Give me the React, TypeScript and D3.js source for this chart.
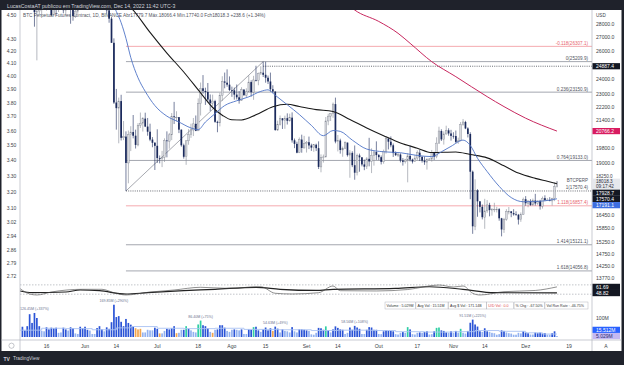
import React from 'react';
import * as d3 from 'd3';

type Ohlc = [number, number, number, number];
type Pt = [string, number];

// daily candles: open, high, low, close
const mayOhlc: Ohlc[] = [
  [39690, 39850, 35860, 36550], [36550, 36650, 35260, 36010], [36010, 36150, 34750, 35470],
  [35470, 35500, 33710, 34040], [34040, 34240, 30030, 30080], [30080, 32660, 29730, 31010],
  [31010, 32190, 27790, 28940], [28940, 30030, 25300, 29030], [29030, 31080, 28700, 29280],
  [29280, 30340, 28630, 30080], [30080, 31460, 29480, 31330], [31330, 31330, 29090, 29860],
  [29860, 30790, 29460, 30420], [30420, 30670, 28650, 28710], [28710, 30540, 28680, 30300],
  [30300, 30770, 28730, 29200], [29200, 29600, 28950, 29430], [29430, 30480, 29230, 30280],
  [30280, 30650, 28850, 29100], [29100, 29830, 28650, 29650], [29650, 30220, 29290, 29540],
  [29540, 29860, 28020, 29200], [29200, 29390, 28260, 28630], [28630, 29290, 28480, 29020],
  [29020, 29550, 28810, 29450], [29450, 31950, 29300, 31720], [31720, 32400, 31200, 31800],
];
const junOhlc: Ohlc[] = [
  [31800, 31980, 29300, 29800], [29800, 30670, 29600, 30450], [30450, 30690, 29280, 29700],
  [29700, 29940, 29470, 29860], [29860, 30170, 29500, 29900], [29900, 31770, 29880, 31370],
  [31370, 31550, 29220, 31130], [31130, 31330, 29850, 30200], [30200, 30700, 29950, 30110],
  [30110, 30390, 28850, 29090], [29090, 29450, 28100, 28420], [28420, 28550, 26560, 26570],
  [26570, 26900, 22400, 22490], [22490, 23360, 20850, 22140], [22140, 22800, 20070, 22580],
  [22580, 22980, 20230, 20380], [20380, 21360, 20250, 20450], [20450, 20750, 17570.4, 19000],
  [19000, 20800, 17950, 20560], [20560, 21050, 19640, 20710], [20710, 21720, 20350, 20500],
  [20500, 20850, 19780, 19980], [19980, 21230, 19900, 21100], [21100, 21870, 20950, 21230],
  [21230, 21590, 20740, 21500], [21500, 21860, 21000, 21030], [21030, 21540, 20500, 20730],
  [20730, 21200, 20190, 20280], [20280, 20420, 19850, 20100], [20100, 20140, 18630, 19930],
];
const julOhlc: Ohlc[] = [
  [19930, 20870, 19000, 19260], [19260, 19400, 18980, 19240], [19240, 19650, 18780, 19300],
  [19300, 20350, 19050, 20230], [20230, 20750, 19300, 20190], [20190, 20660, 19770, 20550],
  [20550, 21840, 20250, 21640], [21640, 22530, 21180, 21590], [21590, 21950, 21330, 21590],
  [21590, 21600, 20650, 20850], [20850, 20860, 19880, 19960], [19960, 20050, 19230, 19330],
  [19330, 20240, 18900, 20210], [20210, 20880, 19990, 20570], [20570, 21200, 20380, 20830],
  [20830, 21540, 20480, 21190], [21190, 21690, 20760, 20780], [20780, 22750, 20770, 22430],
  [22430, 23780, 21690, 23400], [23400, 24280, 23050, 23230], [23230, 23440, 22340, 23160],
  [23160, 23750, 22500, 22680], [22680, 23000, 21960, 22450], [22450, 22990, 22270, 22580],
  [22580, 22660, 21250, 21310], [21310, 21380, 20700, 21250], [21250, 23110, 21040, 22950],
  [22950, 24200, 22590, 23850], [23850, 24450, 23400, 23770], [23770, 24670, 23500, 23640],
  [23640, 24190, 23220, 23290],
];
const augOhlc: Ohlc[] = [
  [23290, 23510, 22850, 23270], [23270, 23450, 22670, 22990], [22990, 23650, 22680, 22820],
  [22820, 23220, 22420, 22620], [22620, 23470, 22590, 23310], [23310, 23350, 22930, 22950],
  [22950, 23400, 22840, 23170], [23170, 24250, 23150, 23810], [23810, 23930, 22860, 23150],
  [23150, 24230, 22660, 23950], [23950, 24920, 23850, 23930], [23930, 24450, 23600, 24400],
  [24400, 24890, 24290, 24440], [24440, 25209.9, 24150, 24300], [24300, 25200, 23770, 24100],
  [24100, 24250, 23680, 23850], [23850, 24450, 23180, 23340], [23340, 23600, 23080, 23190],
  [23190, 23200, 20780, 20830], [20830, 21380, 20770, 21140], [21140, 21690, 21090, 21520],
  [21520, 21530, 20890, 21400], [21400, 21680, 20900, 21530], [21530, 21820, 21150, 21370],
  [21370, 21800, 21320, 21560], [21560, 21880, 20110, 20240], [20240, 20340, 19800, 20040],
  [20040, 20160, 19520, 19550], [19550, 20400, 19530, 20280], [20280, 20560, 19550, 19810],
  [19810, 20490, 19790, 20050],
];
const sepOhlc: Ohlc[] = [
  [20050, 20200, 19560, 20130], [20130, 20450, 19750, 19950], [19950, 20050, 19650, 19830],
  [19830, 20000, 19600, 19990], [19990, 20050, 19640, 19800], [19800, 20180, 18680, 18790],
  [18790, 19460, 18510, 19290], [19290, 19450, 19020, 19320], [19320, 21600, 19300, 21360],
  [21360, 21800, 21110, 21650], [21650, 21840, 21360, 21820], [21820, 22490, 21550, 22390],
  [22390, 22800, 20070, 20170], [20170, 20540, 19620, 20230], [20230, 20330, 19500, 19700],
  [19700, 19890, 19330, 19800], [19800, 20180, 19750, 20110], [20110, 20110, 19340, 19420],
  [19420, 19690, 18230, 19540], [19540, 19630, 18780, 18880], [18880, 19950, 18130, 18490],
  [18490, 19500, 18350, 19400], [19400, 19500, 18540, 19300], [19300, 19310, 18820, 18920],
  [18920, 19180, 18620, 18800], [18800, 19310, 18680, 19220], [19220, 20380, 18820, 19080],
  [19080, 19790, 18470, 19410], [19410, 19640, 18860, 19590], [19590, 20180, 19160, 19420],
];
const octOhlc: Ohlc[] = [
  [19420, 19480, 19150, 19310], [19310, 19400, 18920, 19060], [19060, 19720, 18960, 19630],
  [19630, 20480, 19500, 20340], [20340, 20370, 19730, 20160], [20160, 20460, 19850, 19960],
  [19960, 20060, 19320, 19530], [19530, 19620, 19370, 19420], [19420, 19550, 19320, 19450],
  [19450, 19520, 19030, 19130], [19130, 19260, 18860, 19060], [19060, 19220, 18970, 19160],
  [19160, 19520, 18000, 19380], [19380, 19950, 19080, 19180], [19180, 19230, 18970, 19070],
  [19070, 19420, 19060, 19260], [19260, 19680, 19160, 19550], [19550, 19710, 19100, 19330],
  [19330, 19350, 19020, 19120], [19120, 19350, 18900, 19040], [19040, 19250, 18650, 19170],
  [19170, 19260, 19130, 19210], [19210, 19700, 19070, 19570], [19570, 19600, 19160, 19330],
  [19330, 20410, 19250, 20080], [20080, 21020, 20060, 20770], [20770, 20870, 20200, 20290],
  [20290, 20750, 20000, 20600], [20600, 21080, 20560, 20810], [20810, 20930, 20500, 20630],
  [20630, 20840, 20220, 20490],
];
const novOhlc: Ohlc[] = [
  [20490, 20700, 20330, 20480], [20480, 20800, 20060, 20150], [20150, 20390, 20040, 20210],
  [20210, 21300, 20180, 21150], [21150, 21480, 21080, 21300], [21300, 21370, 20880, 20920],
  [20920, 20990, 20400, 20600], [20600, 20700, 17170, 18540], [18540, 18600, 15590, 15920],
  [15920, 18150, 15750, 17600], [17600, 17660, 16350, 17070], [17070, 17070, 16550, 16810],
  [16810, 16920, 16230, 16330], [16330, 17190, 15810, 16620], [16620, 17130, 16530, 16900],
  [16900, 17000, 16370, 16660], [16660, 16750, 16400, 16690], [16690, 17000, 16560, 16700],
  [16700, 16810, 16550, 16700], [16700, 16750, 16170, 16280], [16280, 16300, 15480, 15780],
  [15780, 16300, 15630, 16230], [16230, 16700, 16170, 16600], [16600, 16800, 16460, 16600],
  [16600, 16610, 16330, 16520], [16520, 16700, 16400, 16460], [16460, 16600, 16400, 16440],
  [16440, 16480, 16000, 16220], [16220, 16550, 16120, 16440], [16440, 17250, 16430, 17170],
];
const decOhlc: Ohlc[] = [
  [17170, 17320, 16860, 16980], [16980, 17100, 16790, 17090], [17090, 17170, 16860, 16890],
  [16890, 17200, 16880, 17110], [17110, 17430, 16870, 16970], [16970, 17100, 16900, 17090],
  [17090, 17140, 16680, 16840], [16840, 17300, 16730, 17220], [17220, 17360, 17080, 17130],
  [17130, 17230, 17090, 17130], [17130, 17270, 17070, 17090], [17090, 17240, 16870, 17210],
  [17210, 18000, 17080, 17779.7], [17779.7, 18066.4, 17740, 18018.3],
];

// daily volume, millions
const mayVol = [78, 54, 34, 57, 120, 74, 126.45, 100, 57, 32, 30, 51, 40, 49, 46, 49, 22, 24, 49, 40, 34, 51, 46, 19, 16, 54, 46];
const junVol = [54, 38, 34, 16, 16, 47, 57, 40, 30, 51, 43, 78, 169.85, 105, 110, 80, 57, 95, 74, 65, 54, 46, 40, 43, 24, 24, 38, 35, 35, 49];
const julVol = [43, 19, 19, 32, 43, 40, 46, 57, 20, 22, 38, 38, 57, 43, 35, 27, 24, 66, 86.4, 62, 57, 46, 27, 22, 38, 40, 62, 62, 49, 32, 27];
const augVol = [38, 40, 38, 35, 40, 16, 16, 40, 38, 52, 54, 35, 27, 40, 50, 35, 46, 32, 54.63, 44, 24, 40, 32, 30, 24, 52, 30, 24, 40, 40, 38];
const sepVol = [35, 32, 14, 12, 22, 48, 46, 38, 56, 35, 24, 40, 56, 48, 40, 38, 16, 22, 50, 38, 58.56, 50, 43, 16, 16, 38, 52, 50, 38, 38];
const octVol = [16, 15, 30, 35, 32, 32, 30, 15, 13, 22, 26, 22, 52, 40, 15, 13, 22, 24, 22, 26, 30, 13, 15, 30, 48, 50, 35, 32, 24, 22, 30];
const novVol = [22, 32, 23, 43, 22, 18, 32, 75, 91.51, 66, 55, 30, 27, 46, 30, 27, 22, 20, 12, 15, 35, 32, 24, 20, 18, 12, 12, 22, 19, 30];
const decVol = [24, 20, 13, 13, 23, 20, 23, 20, 20, 12, 12, 20, 30, 5.029];

const months = [
  { start: '2022-05-05', ohlc: mayOhlc, vol: mayVol },
  { start: '2022-06-01', ohlc: junOhlc, vol: junVol },
  { start: '2022-07-01', ohlc: julOhlc, vol: julVol },
  { start: '2022-08-01', ohlc: augOhlc, vol: augVol },
  { start: '2022-09-01', ohlc: sepOhlc, vol: sepVol },
  { start: '2022-10-01', ohlc: octOhlc, vol: octVol },
  { start: '2022-11-01', ohlc: novOhlc, vol: novVol },
  { start: '2022-12-01', ohlc: decOhlc, vol: decVol },
];

// moving averages
const sma50: Pt[] = [
  ['2022-06-17', 29900], ['2022-06-21', 29100], ['2022-06-28', 27350], ['2022-07-05', 25820],
  ['2022-07-12', 24490], ['2022-07-19', 23100], ['2022-07-24', 22180], ['2022-07-28', 21710],
  ['2022-08-01', 21430], ['2022-08-05', 21420], ['2022-08-11', 21730], ['2022-08-18', 22230],
  ['2022-08-24', 22380], ['2022-08-29', 22240], ['2022-09-05', 22050], ['2022-09-12', 21930],
  ['2022-09-19', 21450], ['2022-09-26', 20950], ['2022-10-03', 20500], ['2022-10-10', 20090],
  ['2022-10-17', 19800], ['2022-10-23', 19560], ['2022-11-02', 19590], ['2022-11-08', 19450],
  ['2022-11-15', 19270], ['2022-11-22', 18850], ['2022-11-28', 18470], ['2022-12-05', 18200],
  ['2022-12-10', 18050], ['2022-12-14', 17928.7],
];
const ema20: Pt[] = [
  ['2022-06-12', 29900], ['2022-06-14', 29000], ['2022-06-16', 28100], ['2022-06-18', 26900],
  ['2022-06-20', 25500], ['2022-06-23', 24100], ['2022-06-26', 23200], ['2022-06-30', 22300],
  ['2022-07-05', 21650], ['2022-07-10', 21300], ['2022-07-15', 20950], ['2022-07-18', 20850],
  ['2022-07-21', 21300], ['2022-07-25', 21800], ['2022-07-29', 22300], ['2022-08-03', 22600],
  ['2022-08-08', 22850], ['2022-08-13', 23200], ['2022-08-16', 23300], ['2022-08-19', 22950],
  ['2022-08-24', 22350], ['2022-08-29', 21750], ['2022-09-03', 21100], ['2022-09-08', 20500],
  ['2022-09-12', 20800], ['2022-09-15', 20750], ['2022-09-20', 20250], ['2022-09-26', 19750],
  ['2022-10-03', 19600], ['2022-10-10', 19550], ['2022-10-17', 19400], ['2022-10-23', 19340],
  ['2022-10-27', 19600], ['2022-10-31', 19900], ['2022-11-05', 20250], ['2022-11-08', 19950],
  ['2022-11-11', 19250], ['2022-11-15', 18550], ['2022-11-20', 17800], ['2022-11-25', 17250],
  ['2022-11-30', 17050], ['2022-12-05', 17060], ['2022-12-10', 17110], ['2022-12-14', 17191.1],
];
const sma200: Pt[] = [
  ['2022-09-18', 29600], ['2022-09-21', 29115], ['2022-10-01', 28200], ['2022-10-09', 27283],
  ['2022-10-14', 26533], ['2022-10-23', 25205], ['2022-11-02', 24173], ['2022-11-15', 22862],
  ['2022-11-22', 22235], ['2022-12-01', 21527], ['2022-12-14', 20766.2],
];

// lower oscillator
const oscFast: Pt[] = [
  ['2022-05-05', 58], ['2022-05-09', 46.4], ['2022-05-12', 44.3], ['2022-05-18', 50.7],
  ['2022-05-31', 56.5], ['2022-06-08', 56.5], ['2022-06-13', 49.2], ['2022-06-18', 44.3],
  ['2022-06-27', 50], ['2022-07-08', 55], ['2022-07-19', 60.8], ['2022-07-30', 58.6],
  ['2022-08-13', 62], ['2022-08-19', 48], ['2022-08-26', 46.4], ['2022-09-06', 49.2],
  ['2022-09-12', 63.6], ['2022-09-15', 53.5], ['2022-09-30', 52.9], ['2022-10-13', 56],
  ['2022-10-26', 65.7], ['2022-11-01', 61.4], ['2022-11-05', 63.6], ['2022-11-09', 48],
  ['2022-11-12', 44.3], ['2022-11-22', 51.4], ['2022-12-05', 54], ['2022-12-14', 61.69],
];
const oscSlow: Pt[] = [
  ['2022-05-05', 52.9], ['2022-05-10', 49.2], ['2022-05-24', 50.7], ['2022-05-30', 55],
  ['2022-06-07', 53.5], ['2022-06-18', 46.4], ['2022-06-27', 49.2], ['2022-07-12', 53.5],
  ['2022-07-25', 56.5], ['2022-08-11', 60.8], ['2022-08-21', 56.5], ['2022-09-05', 54],
  ['2022-09-12', 56.5], ['2022-10-08', 58.6], ['2022-10-22', 62], ['2022-11-05', 56.5],
  ['2022-11-18', 49.2], ['2022-12-14', 48.82],
];
const oscBands = [66, 46];

// volume average (step) and highlighted bars
const avgVol: Pt[] = [
  ['2022-05-05', 36], ['2022-05-14', 46], ['2022-05-24', 44], ['2022-06-04', 38], ['2022-06-14', 48],
  ['2022-06-20', 55], ['2022-07-01', 46], ['2022-07-12', 44], ['2022-07-25', 46], ['2022-08-06', 40],
  ['2022-08-20', 38], ['2022-09-03', 34], ['2022-09-14', 36], ['2022-09-28', 34], ['2022-10-08', 28],
  ['2022-10-20', 26], ['2022-11-01', 28], ['2022-11-10', 34], ['2022-11-20', 30], ['2022-12-01', 22],
  ['2022-12-08', 15.51], ['2022-12-14', 15.51],
];
const tealDays = ['2022-07-13', '2022-07-18', '2022-07-19', '2022-08-10', '2022-09-09', '2022-10-13', '2022-10-25', '2022-10-26', '2022-11-04'];
const orangeDays = ['2022-06-22', '2022-06-23', '2022-06-24', '2022-07-02', '2022-07-09', '2022-07-24', '2022-08-18'];
const volSpikes: [string, string][] = [
  ['2022-05-11', '126.45M (+337%)'], ['2022-06-13', '169.85M (+290%)'], ['2022-07-19', '86.40M (+75%)'],
  ['2022-08-19', '54.63M (+49%)'], ['2022-09-21', '58.56M (+108%)'], ['2022-11-09', '91.51M (+225%)'],
];
const volStats = ['Volume : 5.029M', 'Avg Vol : 15.51M', 'Avg $ Vol : 171.14B', 'U/D Vol : 0.0', '% Chg : -67.50%', 'Vol Run Rate : -46.75%'];

// fibonacci retracement (log)
const fibFrom: Pt = ['2022-06-18', 17570.4];
const fibTo: Pt = ['2022-08-14', 25209.9];
const fibRatios = ['-0.118', '0', '0.236', '0.764', '1', '1.118', '1.414', '1.618'];
const fibPrices = [26307.1, 25209.9, 23150.9, 19133.0, 17570.4, 16857.4, 15121.1, 14056.8];
const hLine: Pt = ['2022-08-14', 24887.4];

// axes
const priceTicks = [28000, 27000, 26000, 24000, 23000, 22200, 21400, 19800, 19000, 18250, 16450, 15850, 15250, 14750, 14250, 13770];
const leftTicks = [4.5, 4.3, 4.2, 4.1, 4.0, 3.9, 3.8, 3.7, 3.6, 3.5, 3.4, 3.3, 3.2, 3.1, 3.02, 2.94, 2.86, 2.79, 2.72];
const timeTicks: Pt[] = [
  ['2022-05-16', 16], ['2022-06-01', 0], ['2022-06-14', 14], ['2022-07-01', 0], ['2022-07-18', 18],
  ['2022-08-01', 0], ['2022-08-15', 15], ['2022-09-01', 0], ['2022-09-14', 14], ['2022-10-01', 0],
  ['2022-10-17', 17], ['2022-11-01', 0], ['2022-11-14', 14], ['2022-12-01', 0], ['2022-12-19', 19],
];
const monthNames = ['Jan', 'Fev', 'Mar', 'Abr', 'Mai', 'Jun', 'Jul', 'Ago', 'Set', 'Out', 'Nov', 'Dez'];

const lastPrice = 18018.3;
const lastCountdown = '09:17:42';
const symbol = 'BTCPERP';
const header = 'BTC Perpetual Futures Contract, 1D, BINANCE  Abr17779.7  Máx.18066.4  Mín.17740.0  Fch18018.3  +238.6 (+1.34%)';
const byline = 'LucasCostaAT publicou em TradingView.com, Dec 14, 2022 11:42 UTC-3';

const W = 624, H = 365;
const L = 20, R = 592, T = 10, AX = 340, B = 351;
const font = "'Liberation Sans', Arial, sans-serif";
const dark = '#1f222b';
const upFill = '#d8dadf', upLine = '#858995', downCol = '#1b2a5c';

const parse = d3.utcParse('%Y-%m-%d');
const day = (s: string) => parse(s) as Date;
const fmt = d3.utcFormat('%Y-%m-%d');

export default function App() {
  const candles = months.flatMap(m => m.ohlc.map((k, i) => ({
    date: d3.utcDay.offset(day(m.start), i), o: k[0], h: k[1], l: k[2], c: k[3], v: m.vol[i],
  })));

  const x = d3.scaleUtc().domain([day('2022-05-16'), day('2022-12-19')]).range([46.5, 569]);
  const y = d3.scaleLog().domain([13770, 28000]).range([278.3, 24]);
  const yLeft = d3.scaleLog().domain([2.72, 4.5]).range([276, 15]);
  const yVol = d3.scaleLinear().domain([0, 100]).range([337, 318]);
  const yOsc = d3.scaleLinear().domain([40, 70]).range([297, 283]);

  const line = (sc: (v: number) => number) =>
    d3.line<Pt>().x(p => x(day(p[0]))).y(p => sc(p[1])).curve(d3.curveMonotoneX);

  const avgIdx = d3.bisector((p: Pt) => day(p[0])).right;
  const avgAt = (dt: Date) => avgVol[Math.max(0, avgIdx(avgVol, dt) - 1)][1];
  const teal = new Set(tealDays), orange = new Set(orangeDays);
  const volColor = (dt: Date, v: number) => {
    const k = fmt(dt);
    if (teal.has(k)) return '#2fcfa4';
    if (orange.has(k)) return '#f2a64e';
    return v >= avgAt(dt) * 0.85 ? '#2b54d6' : '#93b2f0';
  };

  // right axis tags, pushed apart like the platform does
  const lastTop = y(lastPrice) - 3.3;
  const lastH = 11;
  const priceTags = [
    { v: 17928.7, bg: '#131722', fg: '#fff' },
    { v: 17570.4, bg: '#131722', fg: '#fff' },
    { v: 17191.1, bg: '#3d6ee0', fg: '#fff' },
  ];
  let prev = lastTop + lastH;
  const stacked = priceTags.map(t => {
    const c = Math.max(y(t.v), prev + 3.1);
    prev = c + 3.1;
    return { ...t, c };
  });
  const soloTags = [
    { c: y(24887.4), bg: '#131722', fg: '#fff', label: '24887.4' },
    { c: y(20766.2), bg: '#d81b60', fg: '#fff', label: '20766.2' },
  ];
  const oscTags = [61.69, 48.82].map((v, i) => ({ label: v.toFixed(2), c: yOsc(v) + i * 0.2 }));
  const volLow = yVol(5.029);
  const volTags = [
    { label: '15.512M', c: Math.min(yVol(15.51), volLow - 6.2), bg: '#2962ff', fg: '#fff' },
    { label: '5.029M', c: volLow, bg: '#c4b8f2', fg: '#2a2e6e' },
  ];

  // stats boxes, laid out from the right
  const cw = 1.82;
  let bx = 588;
  const boxes = volStats.slice().reverse().map(s => {
    const w = s.length * cw + 3;
    bx -= w;
    const b = { s, x: bx, w };
    bx -= 0.6;
    return b;
  }).reverse();

  const tag = (key: string, c: number, label: string, bg: string, fg: string) => (
    <g key={key}>
      <rect x={R + 0.5} y={c - 3.1} width={27.5} height={6.2} fill={bg} />
      <text x={596} y={c} fill={fg} fontSize={5} dominantBaseline="central">{label}</text>
    </g>
  );

  const fibX0 = x(day(fibFrom[0]));

  return (
    <svg width={W} height={H} viewBox={`0 0 ${W} ${H}`}
      style={{ position: 'absolute', left: 0, top: 0, display: 'block' }} fontFamily={font}>
      <defs>
        <clipPath id="pane"><rect x={L} y={T} width={R - L} height={272} /></clipPath>
        <clipPath id="lower"><rect x={L} y={280} width={R - L} height={AX - 280} /></clipPath>
      </defs>
      <rect width={W} height={H} fill={dark} />
      <rect x={1.5} y={T} width={620} height={B - T} fill="#fff" />
      <text x={7} y={5.5} fill="#d1d4dc" fontSize={5.2} dominantBaseline="central">{byline}</text>

      {/* fib + drawings */}
      <g clipPath="url(#pane)">
        {fibPrices.map((p, i) => {
          const r = fibRatios[i];
          const red = r.endsWith('118');
          const dotted = r === '1';
          return (
            <g key={r}>
              <line x1={fibX0} x2={R} y1={y(p)} y2={y(p)} stroke={dotted ? '#2a2e39' : red ? '#f4a0a6' : '#9a9da6'}
                strokeWidth={dotted ? 0.7 : 0.9} strokeDasharray={dotted ? '1,1.2' : undefined} />
              <text x={588} y={y(p) - 3} textAnchor="end" fontSize={4.6} fill={red ? '#e8636e' : '#50535e'}
                dominantBaseline="central">{`${r}(${p.toFixed(1)})`}</text>
            </g>
          );
        })}
        <line x1={x(day(hLine[0]))} x2={R} y1={y(hLine[1])} y2={y(hLine[1])} stroke="#2a2e39" strokeWidth={0.7} strokeDasharray="1,1.2" />
        <line x1={fibX0} y1={y(fibFrom[1])} x2={x(day(fibTo[0]))} y2={y(fibTo[1])} stroke="#6a6d78" strokeWidth={0.6} />
      </g>

      <text x={23} y={15.5} fill="#50535e" fontSize={4.7} dominantBaseline="central">{header}</text>

      {/* candles */}
      <g clipPath="url(#pane)">
        {candles.map((k, i) => {
          const cx = x(k.date);
          const up = k.c >= k.o;
          const yo = y(k.o), yc = y(k.c);
          return (
            <g key={i}>
              <line x1={cx} x2={cx} y1={y(k.h)} y2={y(k.l)} stroke={up ? upLine : downCol} strokeWidth={0.6} />
              <rect x={cx - 0.85} y={Math.min(yo, yc)} width={1.7} height={Math.max(0.7, Math.abs(yo - yc))}
                fill={up ? upFill : downCol} stroke={up ? upLine : 'none'} strokeWidth={0.4} />
            </g>
          );
        })}
        <path d={line(y)(sma200) ?? ''} fill="none" stroke="#c8285f" strokeWidth={1} />
        <path d={line(y)(sma50) ?? ''} fill="none" stroke="#1a1a1a" strokeWidth={1.1} />
        <path d={line(y)(ema20) ?? ''} fill="none" stroke="#4f74c6" strokeWidth={0.9} />
      </g>
      <text x={588} y={y(lastPrice) - 1.2} textAnchor="end" fontSize={4.5} fill="#50535e" dominantBaseline="central">{symbol}</text>

      {/* oscillator */}
      <g clipPath="url(#lower)">
        {oscBands.map(b => (
          <line key={b} x1={L} x2={R} y1={yOsc(b)} y2={yOsc(b)} stroke="#9a9da6" strokeWidth={0.6} strokeDasharray="1.5,1.5" />
        ))}
        <path d={line(yOsc)(oscSlow) ?? ''} fill="none" stroke="#222" strokeWidth={1.2} />
        <path d={line(yOsc)(oscFast) ?? ''} fill="none" stroke="#444" strokeWidth={0.6} />
      </g>

      {/* volume */}
      <g>
        {candles.filter(k => x(k.date) > L + 0.5).map((k, i) => (
          <rect key={i} x={x(k.date) - 0.85} y={yVol(k.v)} width={1.7} height={yVol(0) - yVol(k.v)} fill={volColor(k.date, k.v)} />
        ))}
        <path d={d3.line<Pt>().x(p => x(day(p[0]))).y(p => yVol(p[1])).curve(d3.curveStepAfter)(avgVol) ?? ''}
          fill="none" stroke="#a9c2f3" strokeWidth={0.9} />
        {volSpikes.map(([ds, label]) => {
          const k = candles.find(c => fmt(c.date) === ds)!;
          return (
            <text key={ds} x={x(k.date)} y={yVol(k.v) - 3} textAnchor="middle" fontSize={3.6} fill="#6b7390">{label}</text>
          );
        })}
        {boxes.map(b => (
          <g key={b.s}>
            <rect x={b.x} y={302} width={b.w} height={7} fill="#fff" stroke="#a3a6af" strokeWidth={0.4} />
            <text x={b.x + 1.5} y={305.6} fontSize={3.6} fill={b.s.startsWith('U/D') ? '#e0474c' : '#333'}
              dominantBaseline="central">{b.s}</text>
          </g>
        ))}
      </g>

      {/* frame lines */}
      <line x1={L} x2={L} y1={T} y2={B} stroke="#b2b5be" strokeWidth={0.7} />
      <line x1={R} x2={R} y1={T} y2={B} stroke="#b2b5be" strokeWidth={0.7} />
      <line x1={1.5} x2={621.5} y1={AX} y2={AX} stroke="#b2b5be" strokeWidth={0.7} />

      {/* left axis */}
      {leftTicks.map(v => (
        <text key={v} x={11.5} y={yLeft(v)} textAnchor="middle" fontSize={5} fill="#3c3f48" dominantBaseline="central">{v.toFixed(2)}</text>
      ))}

      {/* right axis */}
      <text x={596} y={15} fontSize={4.6} fill="#3c3f48" dominantBaseline="central">USD</text>
      {priceTicks.map(v => (
        <text key={v} x={596} y={y(v) - (v === 18250 ? 1.2 : 0)} fontSize={v === 18250 ? 4.6 : 5.1} fill="#3c3f48" dominantBaseline="central">{v.toFixed(1)}</text>
      ))}
      <text x={596} y={yVol(100)} fontSize={5.1} fill="#3c3f48" dominantBaseline="central">100M</text>
      <rect x={R + 0.5} y={lastTop} width={27.5} height={lastH} fill="#e6e8ed" />
      <text x={596} y={lastTop + 2.9} fontSize={4.6} fill="#2a2e39" dominantBaseline="central">{lastPrice.toFixed(1)}</text>
      <text x={596} y={lastTop + 7.8} fontSize={4.6} fill="#2a2e39" dominantBaseline="central">{lastCountdown}</text>
      {soloTags.map(t => tag(t.label, t.c, t.label, t.bg, t.fg))}
      {stacked.map(t => tag(String(t.v), t.c, t.v.toFixed(1), t.bg, t.fg))}
      {oscTags.map(t => tag(t.label, t.c, t.label, '#131722', '#fff'))}
      {volTags.map(t => tag(t.label, t.c, t.label, t.bg, t.fg))}

      {/* time axis */}
      {timeTicks.map(([ds, n]) => {
        const dt = day(ds);
        return (
          <text key={ds} x={x(dt)} y={345.7} textAnchor="middle" fontSize={5.1} fill="#3c3f48" dominantBaseline="central">
            {n ? String(n) : monthNames[dt.getUTCMonth()]}
          </text>
        );
      })}
      <circle cx={11.5} cy={345.7} r={2.6} fill="none" stroke="#8a8e99" strokeWidth={0.5} />
      <text x={606} y={345.7} textAnchor="middle" fontSize={5} fill="#3c3f48" dominantBaseline="central">A</text>

      {/* footer */}
      <text x={3.5} y={358.5} fontSize={5} fontWeight="bold" fill="#d1d4dc" dominantBaseline="central">TV</text>
      <text x={13} y={358.5} fontSize={4.8} fill="#d1d4dc" dominantBaseline="central">TradingView</text>
    </svg>
  );
}
